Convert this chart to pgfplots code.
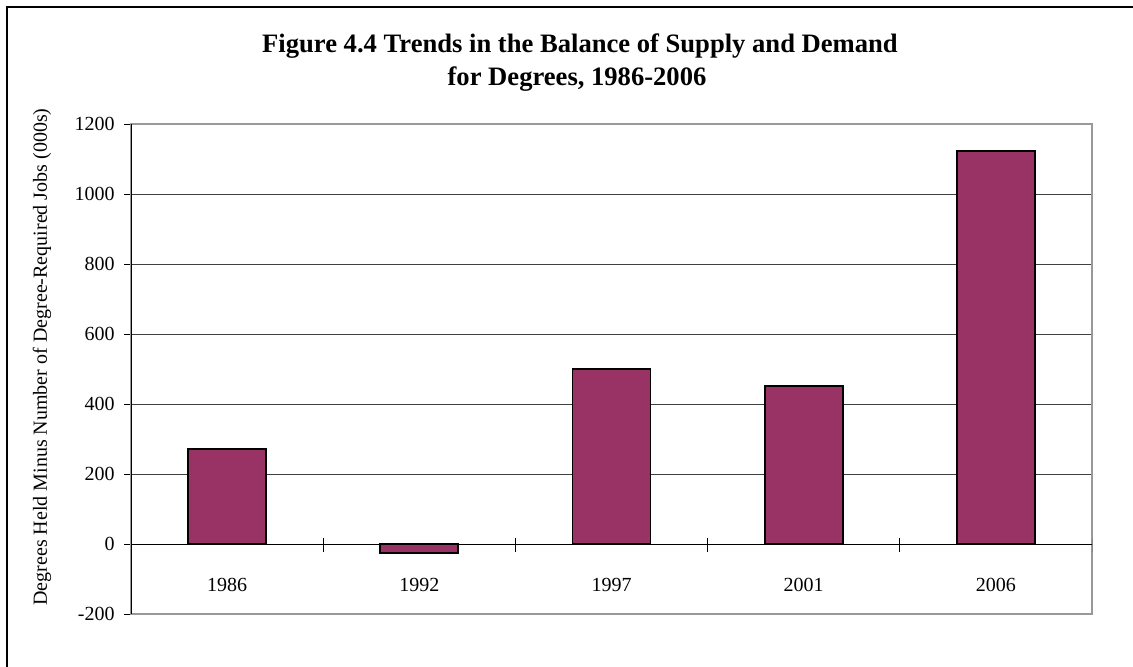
\documentclass[border=0pt]{standalone}
\usepackage{fontspec}
\setmainfont{Liberation Serif}
\usepackage{pgfplots}
\usepackage{pgfplotstable}
\pgfplotsset{compat=1.18}
\definecolor{plum}{HTML}{993366}
\pgfplotstableread{
x year val
0 1986 272
1 1992 -25
2 1997 500
3 2001 452
4 2006 1124
}\datatable
\begin{document}
\begin{tikzpicture}
\path[use as bounding box] (-65.5pt,-26pt) rectangle (501pt,307pt);
\draw[line width=0.7pt] (-62pt,-40pt) -- (-62pt,303.6pt) -- (520pt,303.6pt);
\node[anchor=base, font=\bfseries\fontsize{13.3}{16}\selectfont] at (224.5pt,281pt) {Figure 4.4 Trends in the Balance of Supply and Demand};
\node[anchor=base, font=\bfseries\fontsize{13.3}{16}\selectfont] at (223pt,264.5pt) {for Degrees, 1986-2006};
\node[rotate=90, font=\fontsize{10}{12}\selectfont, inner sep=0pt] at (-44.5pt,128.5pt) {Degrees Held Minus Number of Degree-Required Jobs (000s)};
\begin{axis}[
  at={(0pt,0pt)}, anchor=south west,
  scale only axis, width=480.5pt, height=245pt,
  xmin=-0.5, xmax=4.5, ymin=-200, ymax=1200,
  xtick={0,1,2,3,4}, xticklabels={1986,1992,1997,2001,2006},
  ytick={-200,0,200,400,600,800,1000,1200},
  yticklabels={-200,0,200,400,600,800,1000,1200},
  ytick pos=left,
  tick align=outside,
  major tick length=3.5pt,
  xtick style={draw=none},
  ytick style={black, line width=0.5pt},
  ticklabel style={font=\fontsize{10}{12}\selectfont},
  xticklabel style={anchor=base, inner sep=0pt, yshift=15pt},
  yticklabel style={anchor=east, inner sep=0pt, xshift=-4.5pt},
  ymajorgrids,
  major grid style={black!75, line width=0.5pt},
  axis line style={black!40, line width=0.6pt},
  ybar, bar width=39pt,
]
\draw[black, line width=0.5pt] (axis cs:-0.5,0) -- (axis cs:4.5,0);
\addplot[fill=plum, draw=black, line width=0.9pt, bar shift=0pt] table[x=x, y=val] {\datatable};
\draw[black, line width=0.6pt] (axis cs:-0.5,-200) -- (axis cs:-0.5,1200);
\draw[black, line width=0.5pt] ([yshift=3pt]axis cs:0.5,0) -- ([yshift=-4pt]axis cs:0.5,0);
\draw[black, line width=0.5pt] ([yshift=3pt]axis cs:1.5,0) -- ([yshift=-4pt]axis cs:1.5,0);
\draw[black, line width=0.5pt] ([yshift=3pt]axis cs:2.5,0) -- ([yshift=-4pt]axis cs:2.5,0);
\draw[black, line width=0.5pt] ([yshift=3pt]axis cs:3.5,0) -- ([yshift=-4pt]axis cs:3.5,0);
\draw[black, line width=0.5pt] ([yshift=3pt]axis cs:4.5,0) -- ([yshift=-4pt]axis cs:4.5,0);
\end{axis}
\end{tikzpicture}
\end{document}
